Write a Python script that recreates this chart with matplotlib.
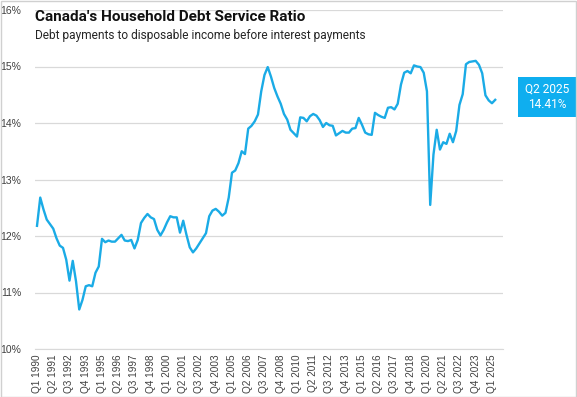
import matplotlib
matplotlib.use("Agg")
import matplotlib.pyplot as plt
from matplotlib.patches import Rectangle

# quarterly debt service ratio, Q1 1990 .. Q2 2025 (percent)
ratio = [
    12.18, 12.68, 12.47, 12.29, 12.21, 12.13, 11.96, 11.83, 11.79, 11.58,
    11.21, 11.56, 11.20, 10.70, 10.87, 11.11, 11.13, 11.11, 11.35, 11.46,
    11.95, 11.89, 11.92, 11.90, 11.90, 11.96, 12.02, 11.92, 11.91, 11.93,
    11.78, 11.93, 12.23, 12.32, 12.39, 12.33, 12.30, 12.11, 12.01, 12.11,
    12.24, 12.35, 12.33, 12.33, 12.06, 12.27, 12.02, 11.80, 11.71, 11.78,
    11.87, 11.96, 12.05, 12.35, 12.45, 12.48, 12.43, 12.36, 12.41, 12.68,
    13.12, 13.16, 13.29, 13.50, 13.45, 13.90, 13.95, 14.03, 14.15, 14.56,
    14.85, 14.99, 14.82, 14.62, 14.47, 14.34, 14.16, 14.06, 13.88, 13.82,
    13.76, 14.10, 14.09, 14.03, 14.12, 14.16, 14.13, 14.05, 13.93, 14.00,
    13.96, 13.95, 13.78, 13.82, 13.86, 13.83, 13.83, 13.90, 13.91, 14.09,
    13.97, 13.83, 13.80, 13.79, 14.18, 14.14, 14.11, 14.09, 14.27, 14.28,
    14.24, 14.34, 14.68, 14.89, 14.92, 14.88, 15.02, 15.00, 14.99, 14.89,
    14.56, 12.55, 13.44, 13.88, 13.53, 13.66, 13.63, 13.81, 13.66, 13.86,
    14.32, 14.51, 15.04, 15.08, 15.09, 15.10, 15.03, 14.88, 14.49, 14.40,
    14.35, 14.41,
]
quarters = [f"Q{q} {y}" for y in range(1990, 2026) for q in range(1, 5)][:len(ratio)]
yticks = [10, 11, 12, 13, 14, 15, 16]
last_label = "Q2 2025"
last_value = "14.41%"

line_color = "#1AABE6"
box_color = "#0FAEEF"
grid_color = "#D9D9D9"
tick_color = "#404040"

fig = plt.figure(figsize=(5.77, 3.97), dpi=100)
ax = fig.add_axes([35 / 577, 1 - 349 / 397, 468 / 577, 339 / 397])

x = list(range(len(ratio)))
ax.plot(x, ratio, color=line_color, linewidth=1.7, solid_joinstyle="round", zorder=3)

ax.set_xlim(-0.615, 143.4)
ax.set_ylim(10, 16)
ax.set_yticks(yticks)
ax.set_yticklabels([f"{v}%" for v in yticks], fontsize=7.5, color=tick_color,
                   family="Liberation Sans")
ticks = x[::5]
ax.set_xticks(ticks)
ax.set_xticklabels([quarters[i] for i in ticks], rotation=90, fontsize=7.2,
                   color=tick_color, family="Liberation Sans")
ax.tick_params(axis="both", length=0, pad=4)
ax.tick_params(axis="y", pad=10)
for side in ["top", "right", "left"]:
    ax.spines[side].set_visible(False)
ax.spines["bottom"].set_color(grid_color)
ax.grid(axis="y", color=grid_color, linewidth=0.9)
ax.set_axisbelow(True)

fig.text(35 / 577, 1 - 17 / 397, "Canada's Household Debt Service Ratio", fontsize=11,
         fontweight="bold", family="Roboto", color="#111111", va="center", ha="left")
fig.text(35 / 577, 1 - 35 / 397, "Debt payments to disposable income before interest payments",
         fontsize=8.6, family="Roboto", color="#262626", va="center", ha="left")

# end value callout
fig.patches.append(Rectangle((518 / 577, 1 - 117 / 397), 58 / 577, 40 / 397,
                             transform=fig.transFigure, facecolor=box_color,
                             edgecolor="none", zorder=5))
fig.text(547 / 577, 1 - 97 / 397, f"{last_label}\n{last_value}", fontsize=8.6,
         family="Roboto", color="white", ha="center", va="center",
         linespacing=1.25, zorder=6)

# outer frame
fig.patches.append(Rectangle((0.5 / 577, 0.5 / 397), 575.5 / 577, 395.5 / 397,
                             transform=fig.transFigure, facecolor="none",
                             edgecolor="#D0D0D0", linewidth=1.0, zorder=10))

fig.savefig("out.png", dpi=100)
